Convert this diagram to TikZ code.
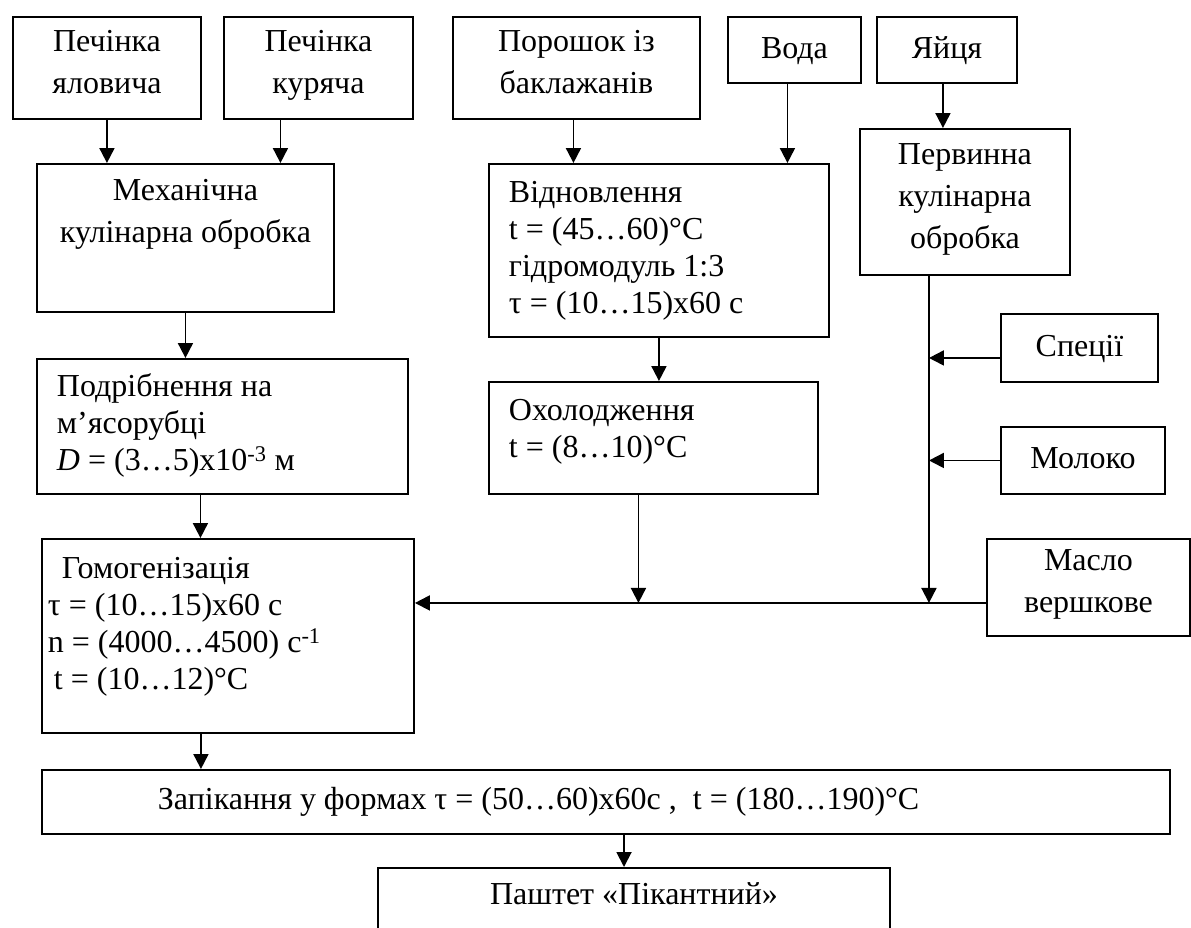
\documentclass[tikz,border=0pt]{standalone}
\usepackage{fontspec}
\setmainfont{Liberation Serif}
\usetikzlibrary{arrows.meta}
\newcommand\boxspace{\spaceskip=8pt plus 2pt minus 1pt\relax}
\tikzset{
  box/.style={draw, line width=1.9pt, anchor=north west, inner sep=0pt, align=center,
    font=\fontsize{32}{42}\selectfont,
    execute at begin node={\boxspace\strut}, execute at end node=\strut},
  lbox/.style={box, align=left, inner xsep=20pt, font=\fontsize{32}{37}\selectfont},
  lift/.style={execute at end node={\rule[-#1]{0pt}{#1}}},
  arr/.style={line width=1.9pt, -{Triangle[length=15pt,width=15pt]}},
}
\begin{document}
\begin{tikzpicture}[x=1pt,y=-1pt]
\clip (0,0) rectangle (1191,927);
% raw materials
\node[box, minimum width=188pt, minimum height=102pt] (yal) at (12,16) {Печінка\\яловича};
\node[box, minimum width=189pt, minimum height=102pt] (kur) at (223,16) {Печінка\\куряча};
\node[box, minimum width=247pt, minimum height=102pt] (por) at (452,16) {Порошок із\\баклажанів};
\node[box, minimum width=133pt, minimum height=66pt] (voda) at (727,16) {Вода};
\node[box, minimum width=140pt, minimum height=66pt] (yay) at (876,16) {Яйця};
% processing steps
\node[box, minimum width=297pt, minimum height=148pt] (mech) at (36,163) {Механічна\\кулінарна обробка\\};
\node[lbox, text width=300pt, minimum height=173pt] (vidn) at (488,163)
  {Відновлення\\t = (45…60)°C\\гідромодуль 1:3\\τ = (10…15)х60 с};
\node[box, minimum width=210pt, minimum height=146pt] (perv) at (859,128) {Первинна\\кулінарна\\обробка};
\node[lbox, text width=331pt, minimum height=135pt] (podr) at (36,358)
  {Подрібнення на\\м’ясорубці\\\textit{D} = (3…5)х10\textsuperscript{-3} м};
\node[lbox, lift=23pt, text width=289pt, minimum height=112pt] (okh) at (488,381) {Охолодження\\t = (8…10)°C};
\node[box, minimum width=157pt, minimum height=68pt] (spec) at (1000,313) {Спеції};
\node[box, minimum width=164pt, minimum height=67pt] (mol) at (1000,426) {Молоко};
\node[lbox, lift=29pt, inner xsep=6pt, text width=360pt, minimum height=194pt] (homo) at (41,538)
  {\hspace*{14pt}Гомогенізація\\τ = (10…15)х60 с\\n = (4000…4500) с\textsuperscript{-1}\\\hspace*{6pt}t = (10…12)°C};
\node[box, minimum width=203pt, minimum height=97pt] (maslo) at (986,538) {Масло\\вершкове};
\node[lbox, inner xsep=116pt, text width=896pt, minimum height=64pt] (zap) at (41,769)
  {Запікання у формах τ = (50…60)х60с ,\ \ t = (180…190)°C};
\node[box, anchor=north, minimum width=512pt, text height=37pt, text depth=63pt,
  execute at begin node=\boxspace, execute at end node={}] (pasht) at (634,867)
  {Паштет «Пікантний»};
% flows
\draw[arr] (yal) -- (yal |- mech.north);
\draw[arr] ([xshift=-38pt]kur.south) -- ([xshift=-38pt]kur.south |- mech.north);
\draw[arr] ([xshift=-3pt]por.south) -- ([xshift=-3pt]por.south |- vidn.north);
\draw[arr] ([xshift=-7pt]voda.south) -- ([xshift=-7pt]voda.south |- vidn.north);
\draw[arr] ([xshift=-4pt]yay.south) -- ([xshift=-4pt]yay.south |- perv.north);
\draw[arr] (mech) -- (mech |- podr.north);
\draw[arr] (vidn) -- (vidn |- okh.north);
\draw[arr] ([xshift=-22pt]podr.south) -- ([xshift=-22pt]podr.south |- homo.north);
\draw[arr] ([xshift=-27pt]homo.south) -- ([xshift=-27pt]homo.south |- zap.north);
\draw[arr] ([xshift=-10pt]pasht.north |- zap.south) -- ([xshift=-10pt]pasht.north);
% collecting line
\coordinate (trunk) at ([xshift=-36pt]perv.south);
\coordinate (feed) at ([yshift=-15.5pt]maslo.west);
\draw[arr] (trunk) -- (trunk |- feed);
\draw[arr] ([yshift=-10pt]spec.west) -- ([yshift=-10pt]spec.west -| trunk);
\draw[arr] (mol.west) -- (mol.west -| trunk);
\draw[arr] ([xshift=-15pt]okh.south) -- ([xshift=-15pt]okh.south |- feed);
\draw[arr] (feed) -- (feed -| homo.east);
\end{tikzpicture}
\end{document}
